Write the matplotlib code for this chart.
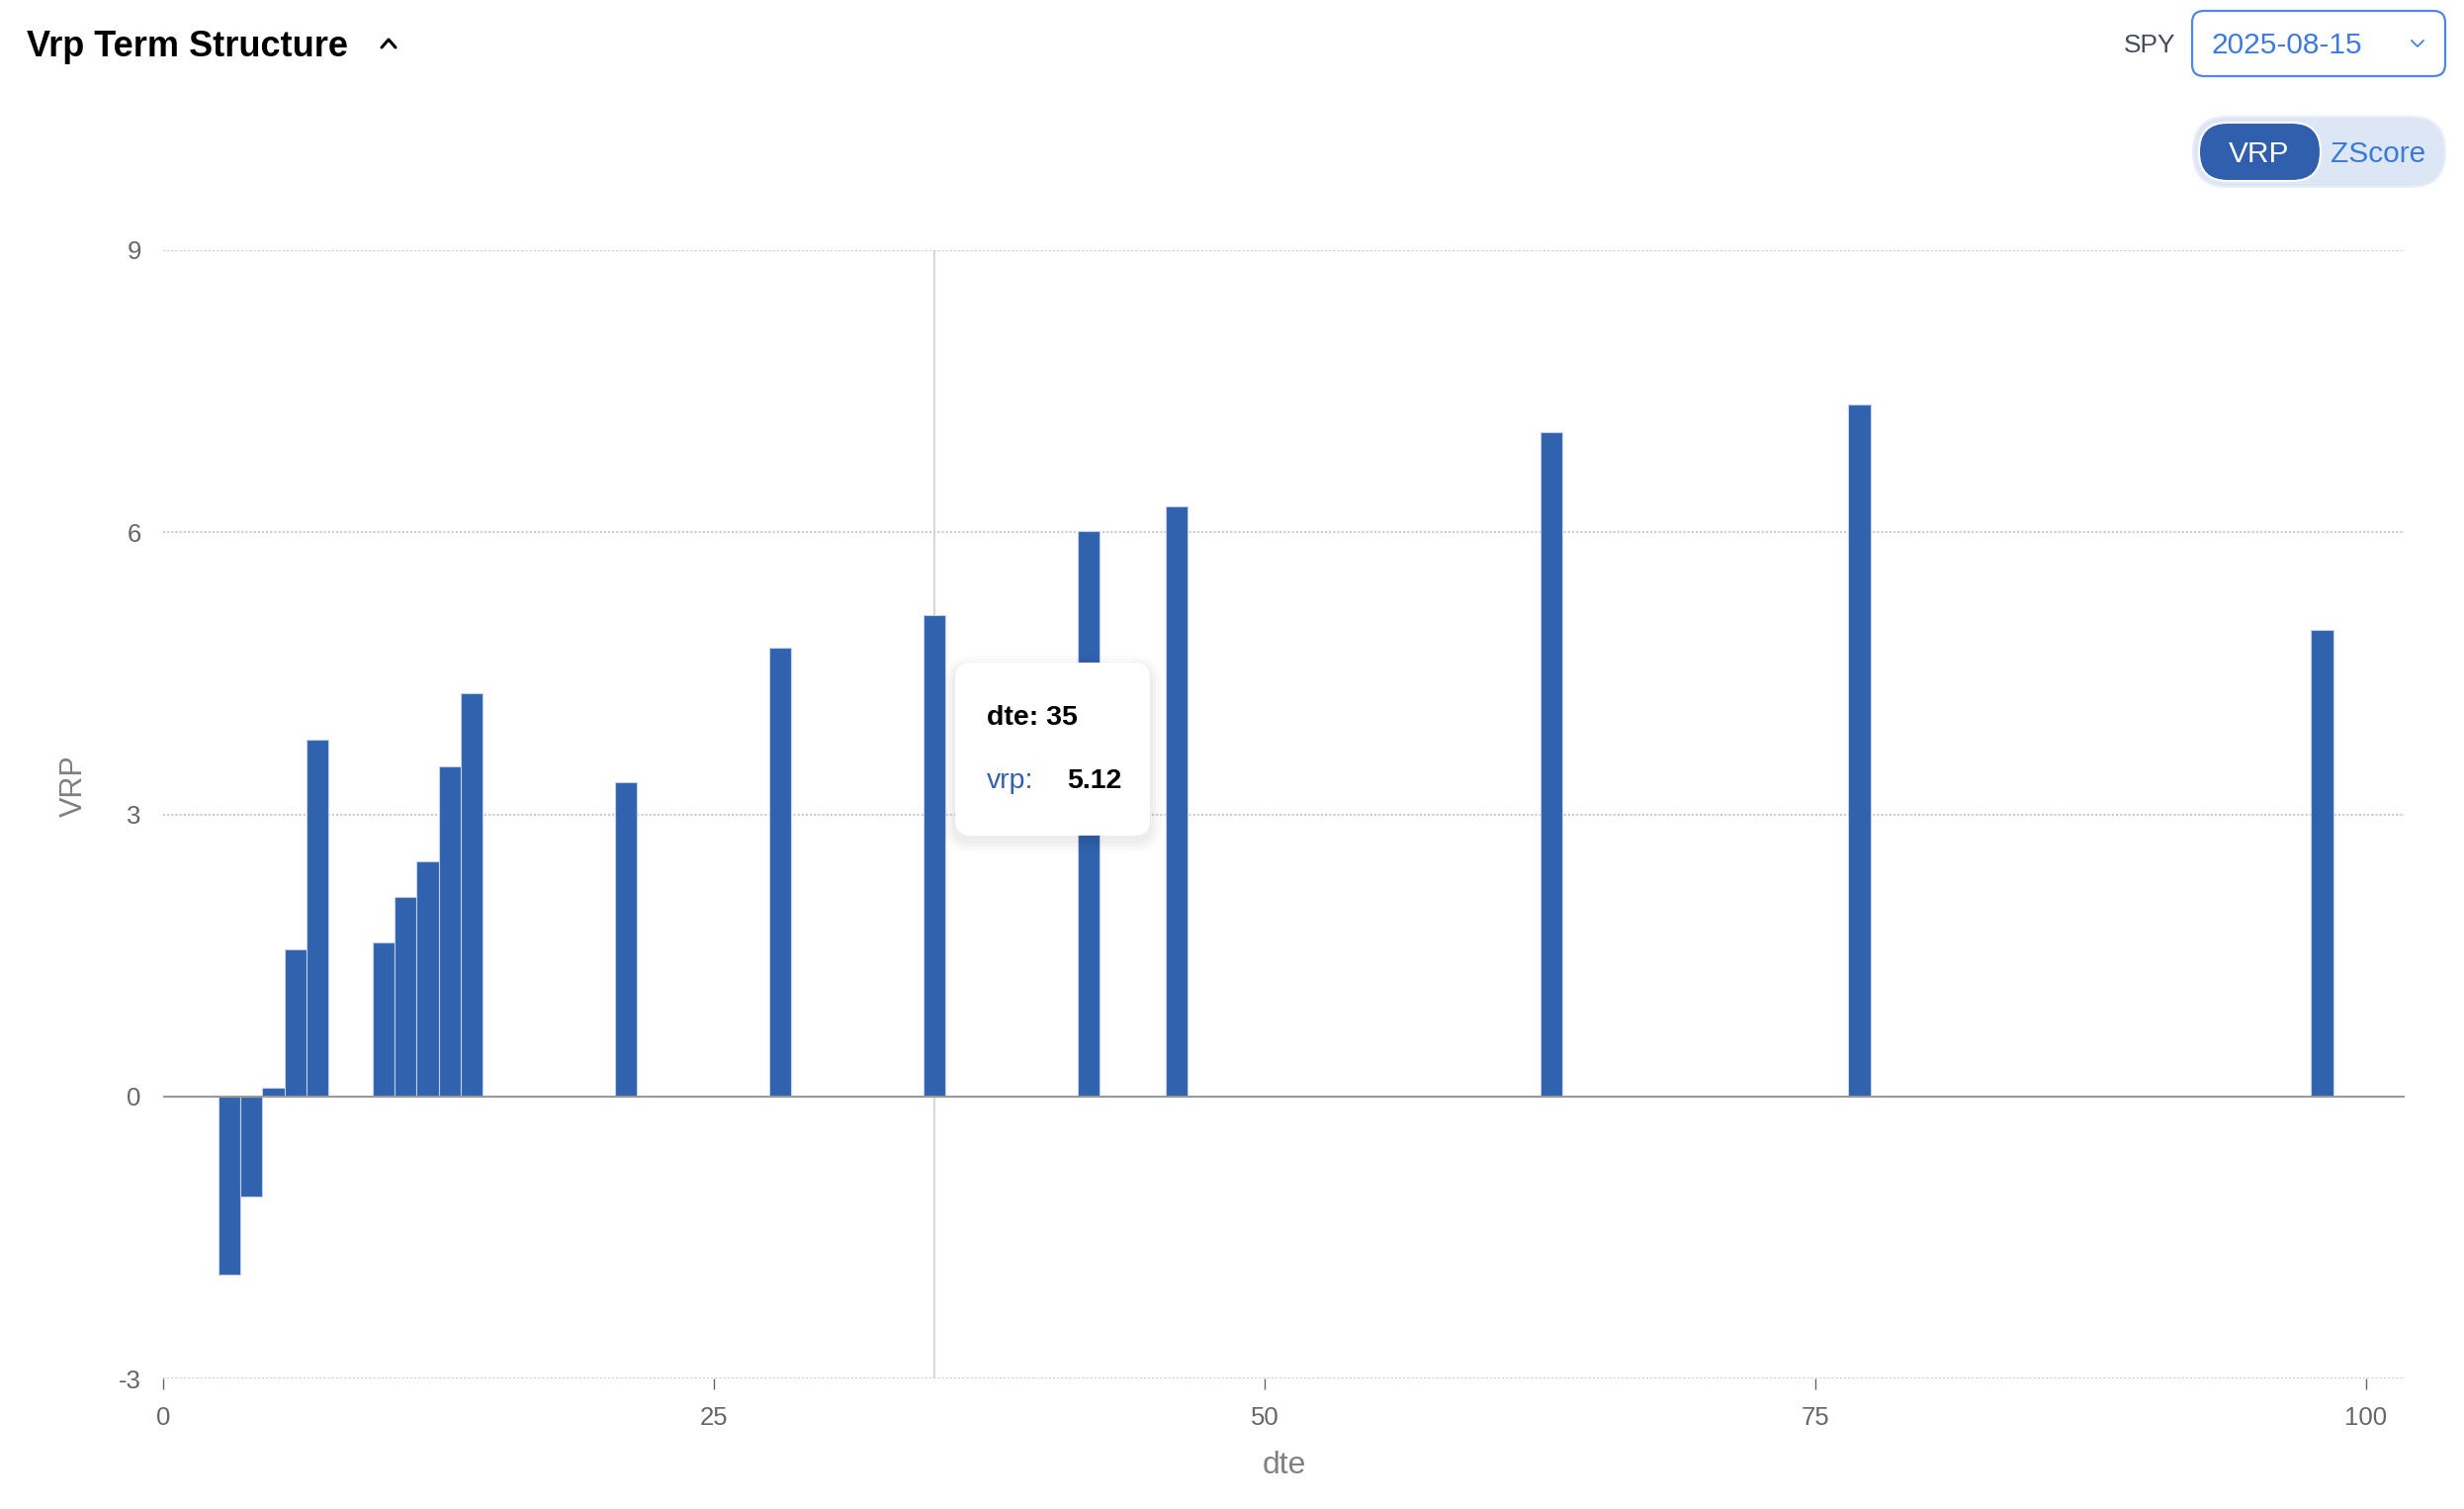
import matplotlib
matplotlib.use("Agg")
import matplotlib.pyplot as plt
from matplotlib.patches import FancyBboxPatch

plt.rcParams['font.family'] = ['Liberation Sans', 'DejaVu Sans']

# data
dte = [3, 4, 5, 6, 7, 10, 11, 12, 13, 14, 21, 28, 35, 42, 46, 63, 77, 98]
vrp = [-1.90, -1.07, 0.09, 1.56, 3.79, 1.64, 2.12, 2.50, 3.51, 4.29,
       3.34, 4.77, 5.12, 6.01, 6.28, 7.06, 7.36, 4.96]
x_ticks = [0, 25, 50, 75, 100]
y_ticks = [-3, 0, 3, 6, 9]
hover_dte = 35
ticker = "SPY"
as_of = "2025-08-15"

W, H = 2492, 1526
bar_color = '#3062ae'

fig = plt.figure(figsize=(W / 100, H / 100), dpi=100)
fig.patch.set_facecolor('white')

# main chart, placed in pixel terms
left, right, top, bottom = 165, 2432, 253, 1394
ax = fig.add_axes([left / W, 1 - bottom / H, (right - left) / W, (bottom - top) / H])

ax.axvline(hover_dte, color='#cccccc', lw=1.1, zorder=1)
ax.bar(dte, vrp, width=1, color=bar_color, edgecolor='#c3d1ea', linewidth=0.8, zorder=3)
ax.axhline(0, color='#999999', lw=1.5, zorder=4)

ax.set_xlim(0, 101.75)
ax.set_ylim(-3, 9)
ax.set_xticks(x_ticks)
ax.set_yticks(y_ticks)
ax.set_yticklabels([str(v) for v in y_ticks])
ax.grid(axis='y', color='#cccccc', linestyle=(0, (1, 1)), linewidth=1.5, zorder=0)
ax.set_axisbelow(True)
for s in ax.spines.values():
    s.set_visible(False)
ax.tick_params(axis='x', length=8, width=1, color='#666666', pad=12,
               labelsize=18.5, labelcolor='#666666')
ax.tick_params(axis='y', length=0, pad=16, labelsize=18.5, labelcolor='#666666')

ax.set_xlabel('dte', fontsize=23, color='#808080')
ax.xaxis.set_label_coords(0.5, (bottom - 1482) / (bottom - top))
ax.xaxis.label.set_va('center')
ax.set_ylabel('VRP', fontsize=22, color='#808080')
ax.yaxis.set_label_coords((75 - left) / (right - left), (bottom - 795) / (bottom - top))
ax.yaxis.label.set_va('center')

# overlay for the page widgets, in pixel coordinates
ov = fig.add_axes([0, 0, 1, 1], zorder=10)
ov.set_xlim(0, W)
ov.set_ylim(H, 0)
ov.axis('off')
ov.patch.set_alpha(0)

ov.text(27, 57, 'Vrp Term Structure', fontsize=26, fontweight='bold', color='black', va='baseline')
ov.plot([386, 393, 400], [48, 40, 48], color='black', lw=2.2, solid_capstyle='round')

ov.text(2200, 53, ticker, fontsize=19, color='#454b57', ha='right', va='baseline')
ov.add_patch(FancyBboxPatch((2217, 11), 256, 66, boxstyle='round,pad=0,rounding_size=12',
                            fc='white', ec='#4f86e8', lw=1.6))
ov.text(2236, 54, as_of, fontsize=21.5, color='#3d7ae0', va='baseline')
ov.plot([2439, 2445, 2451], [41, 47, 41], color='#3d7ae0', lw=1.2)

ov.add_patch(FancyBboxPatch((2218, 118), 255, 71, boxstyle='round,pad=0,rounding_size=35',
                            fc='#dde6f4', ec='#e8eef8', lw=1.5))
ov.add_patch(FancyBboxPatch((2224, 124), 123, 59, boxstyle='round,pad=0,rounding_size=29',
                            fc='#2f5fad', ec='white', lw=1.5))
ov.text(2285, 164, 'VRP', fontsize=21.5, color='white', ha='center', va='baseline')
ov.text(2405, 164, 'ZScore', fontsize=21.5, color='#3a7bd5', ha='center', va='baseline')

# tooltip for the hovered bar
tx, ty, tw, th = 966, 670, 197, 175
for i, a in enumerate([0.012, 0.015, 0.018, 0.022]):
    g = 12 - 3 * i
    ov.add_patch(FancyBboxPatch((tx - g, ty - g + 5), tw + 2 * g, th + 2 * g,
                                boxstyle='round,pad=0,rounding_size=%d' % (16 + g),
                                fc='black', ec='none', alpha=a))
ov.add_patch(FancyBboxPatch((tx, ty), tw, th, boxstyle='round,pad=0,rounding_size=16',
                            fc='white', ec='none'))
hover_val = vrp[dte.index(hover_dte)]
ov.text(998, 733, 'dte: %d' % hover_dte, fontsize=20.5, fontweight='bold', color='black', va='baseline')
ov.text(998, 797, 'vrp:', fontsize=20.5, color=bar_color, va='baseline')
ov.text(1079, 797, '%.2f' % hover_val, fontsize=20.5, fontweight='bold', color='black', va='baseline')

fig.savefig('out.png', dpi=100, facecolor='white')
